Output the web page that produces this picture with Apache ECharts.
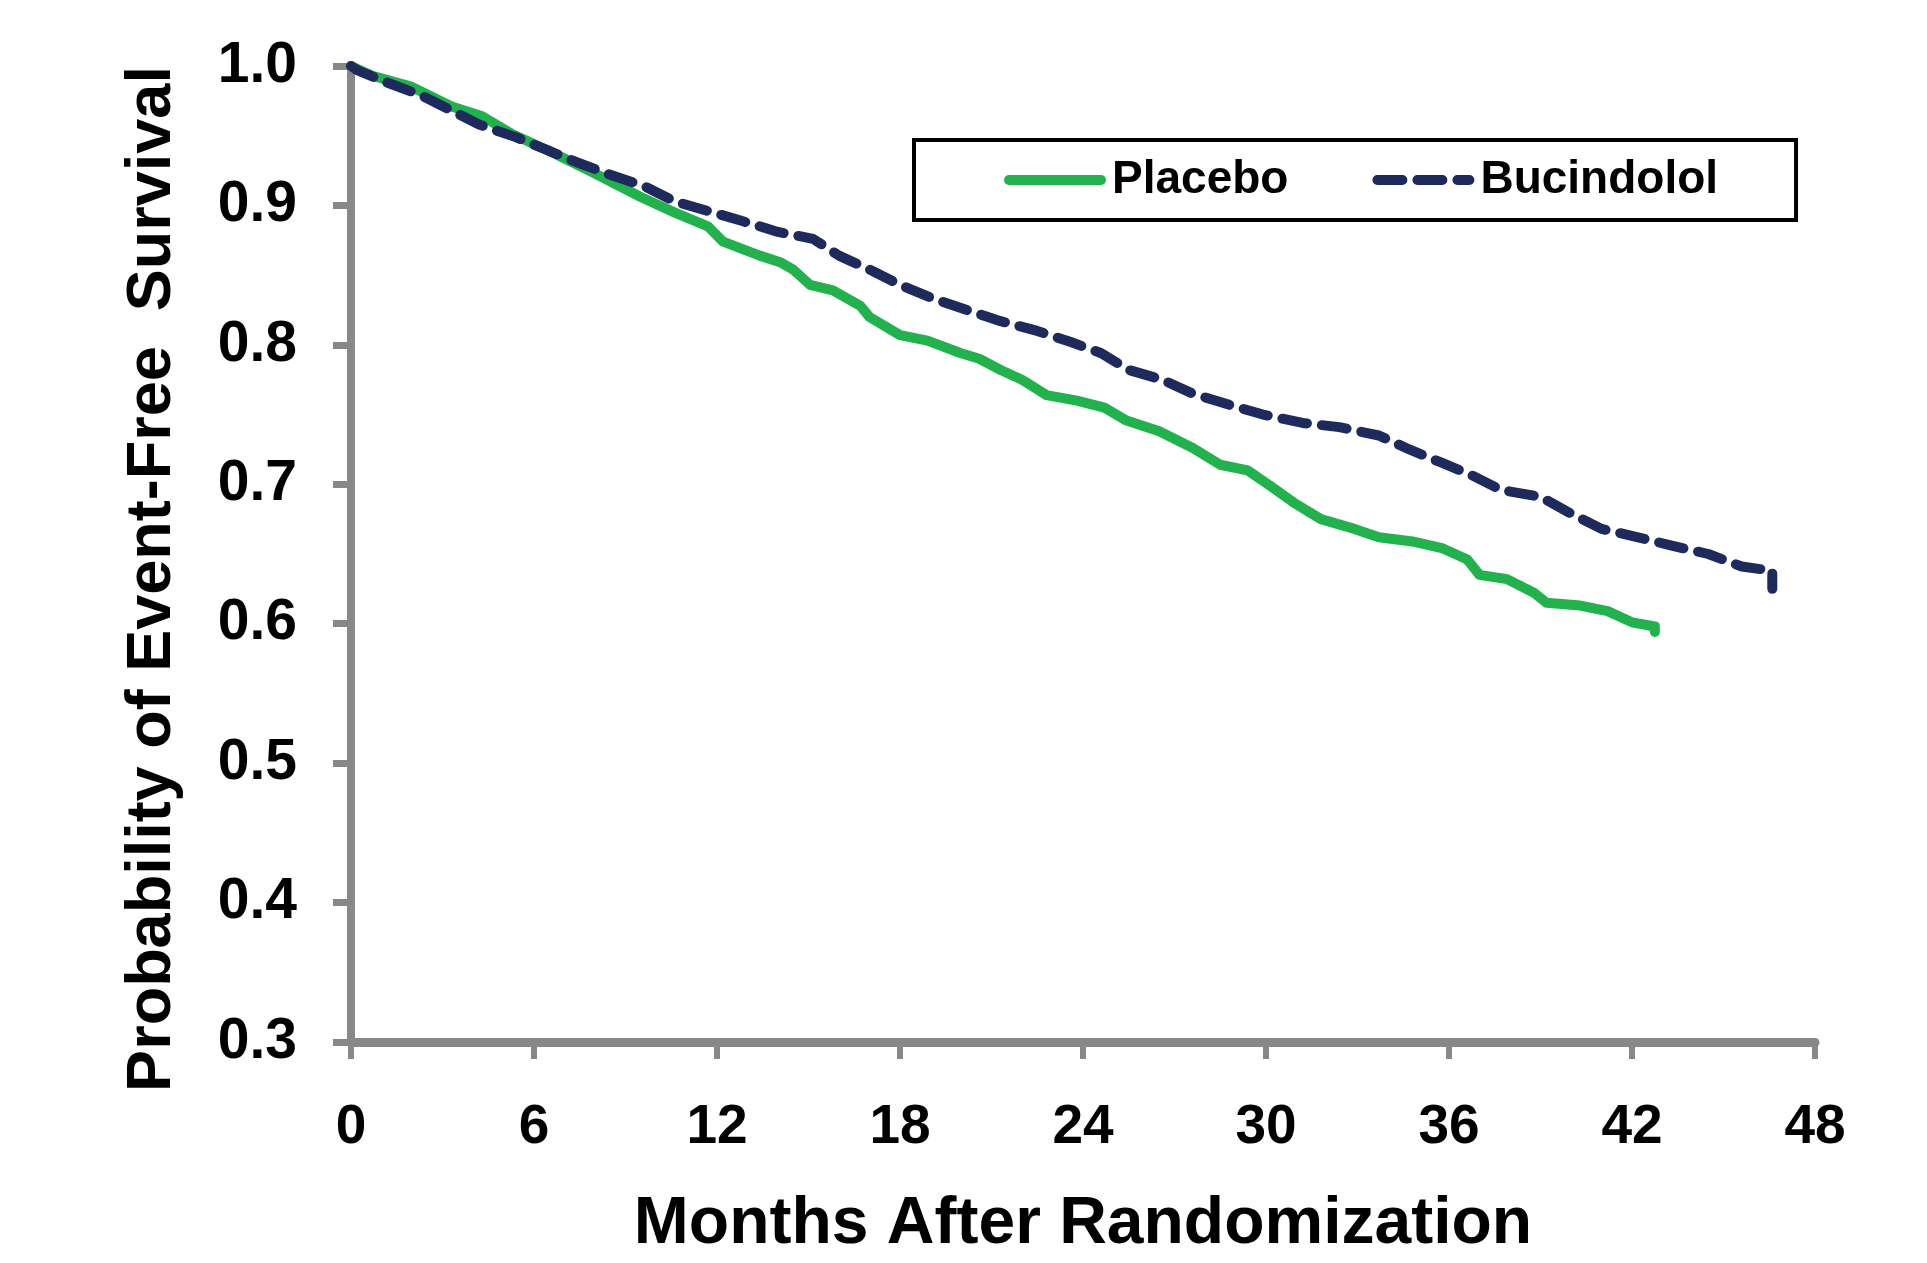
<!DOCTYPE html>
<html>
<head>
<meta charset="utf-8">
<script src="https://cdn.jsdelivr.net/npm/echarts@6/dist/echarts.min.js"></script>
<style>
html, body { margin: 0; padding: 0; background: #fff; }
#main { width: 1927px; height: 1263px; }
</style>
</head>
<body>
<div id="main"></div>
<script>
// months after randomization / event-free survival
var placeboMonths = [0, 0.7, 2.0, 3.3, 4.3, 5.3, 6.6, 7.9, 9.5, 10.6, 11.7, 12.2, 13.4, 14.1, 14.5, 15.05, 15.8, 16.7, 17.0, 18.0, 18.9, 20.0, 20.6, 21.3, 22.0, 22.8, 23.8, 24.7, 25.4, 26.5, 27.6, 28.5, 29.4, 30.2, 30.9, 31.8, 32.9, 33.7, 34.8, 35.8, 36.6, 37.0, 37.9, 38.8, 39.2, 40.3, 41.2, 42.0, 42.75, 42.75];
var placeboValues = [1.000, 0.993, 0.985, 0.971, 0.964, 0.951, 0.938, 0.924, 0.906, 0.895, 0.885, 0.874, 0.864, 0.859, 0.854, 0.843, 0.839, 0.828, 0.820, 0.807, 0.803, 0.794, 0.790, 0.782, 0.775, 0.764, 0.760, 0.755, 0.746, 0.738, 0.726, 0.714, 0.710, 0.698, 0.687, 0.675, 0.668, 0.662, 0.659, 0.654, 0.646, 0.635, 0.632, 0.622, 0.615, 0.613, 0.609, 0.601, 0.598, 0.594];

var bucMonths = [0, 0.2, 1.2, 2.3, 3.3, 4.2, 5.4, 6.4, 7.4, 8.5, 9.6, 10.6, 11.7, 12.8, 14.0, 15.15, 16.0, 17.1, 18.0, 19.1, 20.2, 21.3, 22.5, 23.6, 24.6, 25.5, 26.6, 27.6, 28.8, 29.9, 31.2, 32.4, 33.7, 34.7, 35.7, 36.7, 37.7, 39.0, 40.0, 41.0, 42.2, 43.3, 44.5, 45.6, 46.6, 46.6];
var bucValues = [1.000, 0.997, 0.988, 0.979, 0.968, 0.958, 0.949, 0.940, 0.931, 0.922, 0.914, 0.903, 0.896, 0.889, 0.881, 0.876, 0.864, 0.853, 0.843, 0.833, 0.825, 0.817, 0.810, 0.802, 0.794, 0.782, 0.775, 0.765, 0.757, 0.750, 0.744, 0.741, 0.735, 0.725, 0.716, 0.707, 0.696, 0.691, 0.679, 0.668, 0.662, 0.656, 0.650, 0.641, 0.638, 0.625];

var xTicks = [0, 6, 12, 18, 24, 30, 36, 42, 48];
var yTicks = [0.3, 0.4, 0.5, 0.6, 0.7, 0.8, 0.9, 1.0];

function pairs(xs, ys) {
    var out = [];
    for (var i = 0; i < xs.length; i++) out.push([xs[i], ys[i]]);
    return out;
}

var font = '"Liberation Sans", Arial, Helvetica, sans-serif';
var axisGray = '#888888';

var myChart = echarts.init(document.getElementById('main'));

var option = {
    animation: false,
    backgroundColor: '#ffffff',
    textStyle: { fontFamily: font },
    grid: {
        left: 351,
        right: 112,
        top: 66,
        bottom: 214,
        containLabel: false
    },
    legend: {
        left: 914,
        top: 140,
        padding: [17, 78, 17, 90],
        itemGap: 84,
        itemWidth: 92,
        itemHeight: 10,
        borderColor: '#000',
        borderWidth: 4,
        borderRadius: 0,
        itemStyle: { opacity: 0 },
        lineStyle: { width: 10, cap: 'round' },
        textStyle: {
            fontFamily: font,
            fontSize: 46,
            fontWeight: 'bold',
            color: '#000',
            padding: [0, 0, 0, 6]
        },
        data: ['Placebo', 'Bucindolol']
    },
    xAxis: {
        type: 'value',
        min: 0,
        max: 48,
        interval: 6,
        name: 'Months After Randomization',
        nameLocation: 'middle',
        nameGap: 150,
        nameTextStyle: {
            fontFamily: font,
            fontSize: 66,
            fontWeight: 'bold',
            color: '#000'
        },
        splitLine: { show: false },
        axisLine: { lineStyle: { color: axisGray, width: 9 } },
        axisTick: { length: 17, lineStyle: { color: axisGray, width: 6 } },
        axisLabel: {
            margin: 58,
            fontFamily: font,
            fontSize: 55,
            fontWeight: 'bold',
            color: '#000',
            formatter: function (v) { return xTicks.indexOf(v) >= 0 ? String(v) : ''; }
        }
    },
    yAxis: {
        type: 'value',
        min: 0.3,
        max: 1.0,
        interval: 0.1,
        name: 'Probability of Event-Free  Survival',
        nameLocation: 'middle',
        nameGap: 167,
        nameRotate: 90,
        nameTextStyle: {
            fontFamily: font,
            fontSize: 63,
            fontWeight: 'bold',
            color: '#000',
            padding: [0, 50, 0, 0]
        },
        splitLine: { show: false },
        axisLine: { show: true, lineStyle: { color: axisGray, width: 8 } },
        axisTick: { show: true, length: 18, lineStyle: { color: axisGray, width: 7 } },
        axisLabel: {
            margin: 54,
            fontFamily: font,
            fontSize: 57,
            fontWeight: 'bold',
            color: '#000',
            formatter: function (v) { return v.toFixed(1); }
        }
    },
    series: [
        {
            name: 'Placebo',
            type: 'line',
            symbol: 'none',
            showSymbol: false,
            color: '#22b14c',
            lineStyle: { color: '#22b14c', width: 10, cap: 'round', join: 'round' },
            data: pairs(placeboMonths, placeboValues),
            z: 2
        },
        {
            name: 'Bucindolol',
            type: 'line',
            symbol: 'none',
            showSymbol: false,
            color: '#1f2a5c',
            lineStyle: { color: '#1f2a5c', width: 10, type: [25, 15], cap: 'round', join: 'round' },
            data: pairs(bucMonths, bucValues),
            z: 3
        }
    ]
};

myChart.setOption(option);
</script>
</body>
</html>
